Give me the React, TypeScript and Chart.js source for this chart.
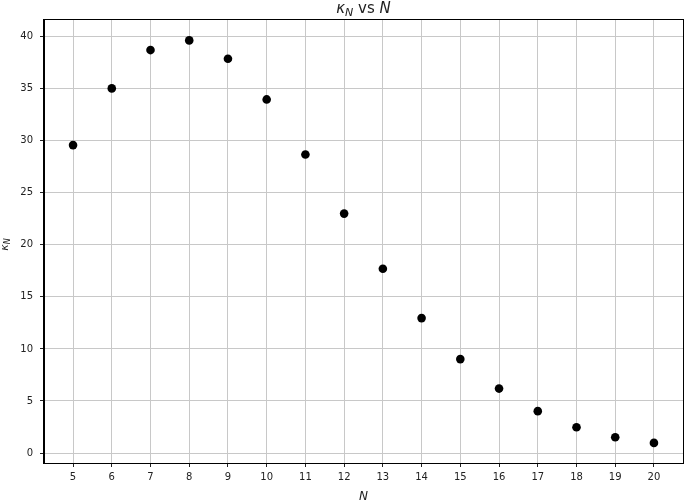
import React, { useEffect, useRef } from "react";
import { Chart, registerables } from "chart.js";

Chart.register(...registerables);

const nValues = [5, 6, 7, 8, 9, 10, 11, 12, 13, 14, 15, 16, 17, 18, 19, 20];
const kappaValues = [29.58, 35.03, 38.71, 39.64, 37.88, 33.97, 28.68, 23.0, 17.7, 12.96, 9.02, 6.19, 4.02, 2.48, 1.51, 0.97];
const xTicks = [5, 6, 7, 8, 9, 10, 11, 12, 13, 14, 15, 16, 17, 18, 19, 20];
const yTicks = [0, 5, 10, 15, 20, 25, 30, 35, 40];

const FONT = "'DejaVu Sans', sans-serif";

function drawKappaN(ctx: CanvasRenderingContext2D, size: number, x: number, y: number, align: "center" | "left") {
  const mainFont = `italic ${size}px ${FONT}`;
  const subFont = `italic ${Math.round(size * 0.7)}px ${FONT}`;
  ctx.font = mainFont;
  const wk = ctx.measureText("κ").width;
  ctx.font = subFont;
  const wn = ctx.measureText("N").width;
  const total = wk + wn;
  const sx = align === "center" ? x - total / 2 : x;
  ctx.font = mainFont;
  ctx.fillText("κ", sx, y);
  ctx.font = subFont;
  ctx.fillText("N", sx + wk, y + size * 0.22);
  return total;
}

const textPlugin = {
  id: "mplText",
  afterDraw(chart: any) {
    const ctx: CanvasRenderingContext2D = chart.ctx;
    const area = chart.chartArea;
    ctx.save();
    ctx.strokeStyle = "#000";
    ctx.lineWidth = 1;
    ctx.strokeRect(Math.round(area.left) - 0.5, Math.round(area.top) - 0.5, Math.round(area.right - area.left) + 1, Math.round(area.bottom - area.top) + 1);

    ctx.fillStyle = "#222";
    ctx.textAlign = "left";
    ctx.textBaseline = "alphabetic";
    const tsize = 15;
    const cx = (area.left + area.right) / 2;
    ctx.font = `italic ${tsize}px ${FONT}`;
    const wk = ctx.measureText("κ").width;
    ctx.font = `italic ${Math.round(tsize * 0.7)}px ${FONT}`;
    const wsub = ctx.measureText("N").width;
    ctx.font = `${tsize}px ${FONT}`;
    const wvs = ctx.measureText(" vs ").width;
    ctx.font = `italic ${tsize}px ${FONT}`;
    const wN = ctx.measureText("N").width;
    const total = wk + wsub + wvs + wN;
    let sx = cx - total / 2;
    const by = 13;
    drawKappaN(ctx, tsize, sx, by, "left");
    sx += wk + wsub;
    ctx.font = `${tsize}px ${FONT}`;
    ctx.fillText(" vs ", sx, by);
    sx += wvs;
    ctx.font = `italic ${tsize}px ${FONT}`;
    ctx.fillText("N", sx, by);

    ctx.font = `italic 12px ${FONT}`;
    ctx.textAlign = "center";
    ctx.fillText("N", cx, 500);

    ctx.save();
    ctx.translate(8, (area.top + area.bottom) / 2 + 3);
    ctx.rotate(-Math.PI / 2);
    ctx.textAlign = "left";
    drawKappaN(ctx, 11, 0, 0, "center");
    ctx.restore();
    ctx.restore();
  },
};

export default function App() {
  const canvasRef = useRef<HTMLCanvasElement | null>(null);
  useEffect(() => {
    if (!canvasRef.current) return;
    const data = nValues.map((n, i) => ({ x: n, y: kappaValues[i] }));
    const chart = new Chart(canvasRef.current, {
      type: "scatter",
      data: {
        datasets: [
          {
            data,
            backgroundColor: "#000",
            borderColor: "#000",
            pointRadius: 4.3,
            pointHoverRadius: 4.3,
            borderWidth: 0,
          },
        ],
      },
      options: {
        animation: false,
        responsive: false,
        devicePixelRatio: 1,
        events: [],
        layout: { autoPadding: false, padding: { top: 20, right: 2, left: 0, bottom: 0 } },
        plugins: { legend: { display: false }, tooltip: { enabled: false }, title: { display: false } },
        scales: {
          x: {
            type: "linear",
            min: 4.25,
            max: 20.75,
            afterBuildTicks: (axis: any) => {
              axis.ticks = xTicks.map((v) => ({ value: v }));
            },
            afterFit: (axis: any) => {
              axis.height = 41;
              axis.paddingLeft = 0;
              axis.paddingRight = 0;
            },
            grid: { color: "#c8c8c8", lineWidth: 1, tickColor: "#222", tickLength: 4, drawTicks: true },
            border: { display: true, color: "#000", width: 1 },
            ticks: { font: { family: FONT, size: 10 }, color: "#222", padding: 4, maxRotation: 0, autoSkip: false },
          },
          y: {
            type: "linear",
            min: -0.96,
            max: 41.6,
            afterBuildTicks: (axis: any) => {
              axis.ticks = yTicks.map((v) => ({ value: v }));
            },
            afterFit: (axis: any) => {
              axis.width = 44;
              axis.paddingTop = 0;
              axis.paddingBottom = 0;
            },
            grid: { color: "#c8c8c8", lineWidth: 1, tickColor: "#222", tickLength: 4, drawTicks: true },
            border: { display: true, color: "#000", width: 1 },
            ticks: { font: { family: FONT, size: 10 }, color: "#222", padding: 7, autoSkip: false },
          },
        },
      },
      plugins: [textPlugin],
    });
    return () => chart.destroy();
  }, []);
  return (
    <div style={{ position: "absolute", left: 0, top: 0, width: 685, height: 504, background: "#fff" }}>
      <canvas ref={canvasRef} width={685} height={504} style={{ width: 685, height: 504, display: "block" }} />
    </div>
  );
}
